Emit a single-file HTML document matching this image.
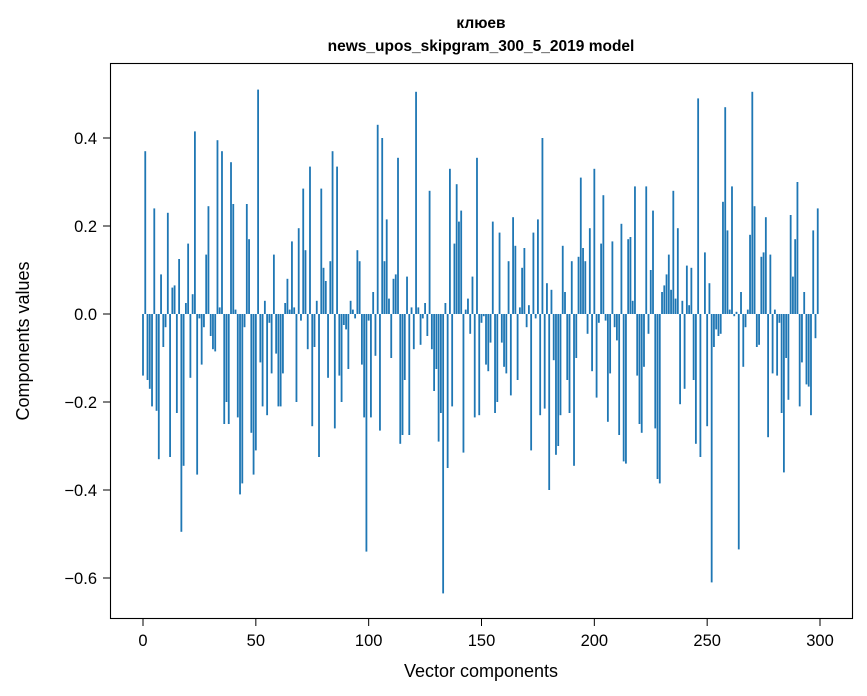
<!DOCTYPE html>
<html><head><meta charset="utf-8"><style>
body{margin:0;background:#fff;}
svg{display:block;font-family:"Liberation Sans","DejaVu Sans",sans-serif;}
</style></head><body>
<svg id="chart" width="867" height="696" viewBox="0 0 867 696" xmlns="http://www.w3.org/2000/svg">
<rect width="867" height="696" fill="#fff"/>
<text x="481" y="28" text-anchor="middle" font-size="15.5" font-weight="bold">клюев</text>
<text x="481" y="51" text-anchor="middle" font-size="15.5" font-weight="bold">news_upos_skipgram_300_5_2019 model</text>
<g id="bars"></g>
<g id="xticks"></g>
<g id="yticks"></g>
<rect x="110.5" y="63.5" width="742" height="555" fill="none" stroke="#000" stroke-width="1.1"/>
<text x="481" y="677" text-anchor="middle" font-size="18">Vector components</text>
<text x="29" y="341" text-anchor="middle" font-size="18" transform="rotate(-90 29 341)">Components values</text>
</svg>
<script>
const values = [
-0.14,0.37,-0.15,-0.17,-0.21,0.24,-0.22,-0.33,0.09,-0.075,-0.03,0.23,-0.325,0.06,0.065,-0.225,0.125,-0.495,-0.345,0.025,0.16,-0.145,0.045,0.415,-0.365,-0.01,-0.115,-0.03,0.135,0.245,-0.05,-0.08,-0.085,0.395,0.015,0.37,-0.25,-0.2,-0.25,0.345,0.25,0.01,-0.235,-0.41,-0.385,-0.03,0.25,0.17,-0.27,-0.365,-0.31,
0.51,
-0.11,-0.21,0.03,-0.23,-0.02,-0.135,0.135,-0.09,-0.21,-0.21,-0.135,0.025,0.08,0.01,0.165,0.015,-0.2,0.195,-0.015,0.285,0.145,-0.08,0.335,-0.255,-0.075,0.03,-0.325,0.285,0.105,0.075,-0.145,0.12,0.37,-0.26,0.335,-0.14,-0.2,-0.025,-0.035,-0.125,0.03,0.01,-0.01,0.145,0.12,-0.115,-0.235,-0.54,
-0.015,-0.235,0.05,-0.095,0.43,-0.265,0.4,0.12,0.215,0.035,-0.1,0.08,0.09,0.355,-0.295,-0.275,-0.15,0.085,-0.275,0.015,-0.08,0.505,0.015,-0.07,-0.01,0.025,-0.05,0.28,-0.08,-0.175,-0.125,-0.29,-0.225,-0.635,0.025,-0.35,0.33,-0.21,0.16,0.295,0.21,0.235,-0.315,0.01,0.035,-0.045,0.085,-0.235,0.355,-0.23,-0.02,
-0.005,
-0.115,-0.13,-0.065,0.21,-0.225,-0.2,0.185,-0.065,-0.12,-0.135,0.12,-0.185,0.22,0.155,-0.15,0.015,0.105,0.15,-0.03,0.02,-0.31,0.185,-0.01,0.215,-0.23,0.4,-0.215,0.07,-0.4,0.055,-0.105,-0.32,-0.3,-0.23,0.155,0.05,-0.15,-0.225,0.12,-0.345,-0.1,0.13,0.31,0.15,0.12,-0.045,0.195,-0.13,0.33,-0.19,
-0.02,0.16,0.27,-0.015,-0.245,-0.135,0.165,-0.03,-0.06,-0.275,0.205,-0.335,-0.34,0.17,0.175,0.03,0.29,-0.14,-0.25,-0.27,-0.12,0.29,-0.045,0.1,0.235,-0.26,-0.375,-0.385,0.05,0.065,0.09,0.135,0.055,0.28,0.035,0.195,-0.205,0.03,-0.17,0.11,0.02,0.105,-0.15,-0.295,0.49,
-0.325,0.0,0.14,-0.255,
0.07,-0.61,-0.075,-0.035,-0.05,-0.045,0.255,0.47,0.19,0.01,0.29,-0.005,0.005,-0.535,0.05,-0.12,-0.03,0.01,0.18,0.505,0.245,-0.075,-0.07,0.13,0.14,0.22,-0.28,0.135,-0.135,0.01,-0.14,-0.02,-0.225,-0.36,-0.1,-0.195,0.225,0.085,0.17,0.3,-0.21,-0.11,0.05,-0.16,-0.165,-0.23,0.19,-0.055,0.24
];
const xTicks = [0,50,100,150,200,250,300];
const yTicks = [0.4,0.2,0.0,-0.2,-0.4,-0.6];
const yTickLabels = ["0.4","0.2","0.0","\u22120.2","\u22120.4","\u22120.6"];

const NS = "http://www.w3.org/2000/svg";
function xs(i){ return 143 + i * (677/300); }
function ys(v){ return 314 - v * 440; }
const barsG = document.getElementById('bars');
values.forEach((v,i)=>{
  const r = document.createElementNS(NS,'rect');
  const w = 0.8*(677/300);
  r.setAttribute('x', xs(i) - w/2);
  r.setAttribute('width', w);
  r.setAttribute('y', Math.min(ys(v), ys(0)));
  r.setAttribute('height', Math.abs(ys(v)-ys(0)));
  r.setAttribute('fill', '#1f77b4');
  
  
  barsG.appendChild(r);
});
const xg = document.getElementById('xticks');
xTicks.forEach(t=>{
  const l = document.createElementNS(NS,'line');
  l.setAttribute('x1', xs(t)); l.setAttribute('x2', xs(t));
  l.setAttribute('y1', 619); l.setAttribute('y2', 626);
  l.setAttribute('stroke', '#000');
  
  
  xg.appendChild(l);
  const tx = document.createElementNS(NS,'text');
  tx.setAttribute('x', xs(t)); tx.setAttribute('y', 646);
  tx.setAttribute('text-anchor', 'middle'); tx.setAttribute('font-size', '16.5');
  tx.textContent = String(t);
  
  
  xg.appendChild(tx);
});
const yg = document.getElementById('yticks');
yTicks.forEach((t,k)=>{
  const l = document.createElementNS(NS,'line');
  l.setAttribute('x1', 103); l.setAttribute('x2', 110);
  l.setAttribute('y1', ys(t)); l.setAttribute('y2', ys(t));
  l.setAttribute('stroke', '#000');
  
  
  yg.appendChild(l);
  const tx = document.createElementNS(NS,'text');
  tx.setAttribute('x', 97); tx.setAttribute('y', ys(t)+6);
  tx.setAttribute('text-anchor', 'end'); tx.setAttribute('font-size', '16.5');
  tx.textContent = yTickLabels[k];
  
  
  yg.appendChild(tx);
});
</script>
</body></html>
